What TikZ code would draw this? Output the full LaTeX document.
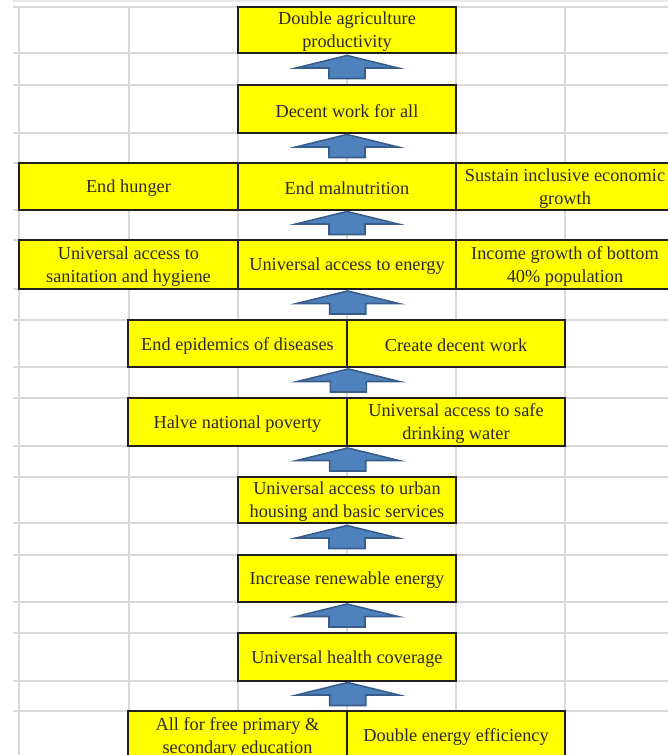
\documentclass[tikz,border=0pt]{standalone}
\usepackage{fontspec}
\setmainfont{Liberation Serif}
\usepackage{xcolor}
\usepackage{tikz}
\usetikzlibrary{calc}
\definecolor{cellyellow}{HTML}{FFFF00}
\definecolor{inkblack}{HTML}{231F20}
\definecolor{gridgray}{HTML}{D9D9D9}
\definecolor{arrowfill}{HTML}{4F81BD}
\definecolor{arrowline}{HTML}{385D8A}

\begin{document}
\begin{tikzpicture}[x=1pt,y=-1pt,font=\fontsize{18.3}{23}\selectfont,
  goal/.style={draw=inkblack,fill=cellyellow,line width=2.8pt,inner sep=0pt},
  goaltext/.style={align=center,inner sep=0pt,text=inkblack!95},
  gridline/.style={gridgray,line width=1.4pt},
  blockarr/.style={fill=arrowfill,draw=arrowline,line width=1.6pt}]
\useasboundingbox (0,0) rectangle (668,755);
\clip (0,0) rectangle (668,755);
% sheet grid
\draw[gridline,gridgray!60] (13,1) -- (668,1);
\foreach \y in {7,53,85,133,163,210,240,289,320,367,398,446,477,523,555,602,633,681,711}
  \draw[gridline] (13,\y) -- (668,\y);
\foreach \x in {19,129,238,347,456,565}
  \draw[gridline] (\x,7) -- (\x,755);
% goal cells
\foreach \n/\xa/\xb/\ya/\yb/\txt in {
  b1/238/456/7/53/{Double agriculture\\productivity},
  b2/238/456/85/133/{Decent work for all},
  r3a/19/238/163/210/{End hunger},
  r3b/238/456/163/210/{End malnutrition},
  r3c/456/674/163/210/{Sustain inclusive economic\\growth},
  r4a/19/238/240/289/{Universal access to\\sanitation and hygiene},
  r4b/238/456/240/289/{Universal access to energy},
  r4c/456/674/240/289/{Income growth of bottom\\40\% population},
  r5a/128/347/320/367/{End epidemics of diseases},
  r5b/347/565/320/367/{Create decent work},
  r6a/128/347/398/446/{Halve national poverty},
  r6b/347/565/398/446/{Universal access to safe\\drinking water},
  b7/238/456/477/523/{Universal access to urban\\housing and basic services},
  b8/238/456/555/602/{Increase renewable energy},
  b9/238/456/633/681/{Universal health coverage},
  r10a/128/347/711/760/{All for free primary \&\\secondary education},
  r10b/347/565/711/760/{Double energy efficiency}}
{
  \pgfmathsetmacro{\w}{\xb-\xa}
  \pgfmathsetmacro{\h}{\yb-\ya}
  \node[goal,minimum width=\w pt,minimum height=\h pt] (\n)
    at ({(\xa+\xb)/2},{(\ya+\yb)/2}) {};
  \node[goaltext] (\n-txt) at ([yshift=-2pt]\n.center) {\txt};
}
% block arrows between the rows
\foreach \up/\dn in {b1.south/b2.north, b2.south/r3b.north, r3b.south/r4b.north,
  r4b.south/r5a.north east, r5a.south east/r6a.north east,
  r6a.south east/b7.north, b7.south/b8.north, b8.south/b9.north,
  b9.south/r10a.north east}
{
  \path ($(\up)!0.5!(\dn)$) coordinate (mid);
  \draw[blockarr] ([shift={(0,-13.5)}]mid) -- ([shift={(51,-1)}]mid)
    -- ([shift={(18,-1)}]mid) -- ([shift={(18,9.5)}]mid)
    -- ([shift={(-18,9.5)}]mid) -- ([shift={(-18,-1)}]mid)
    -- ([shift={(-51,-1)}]mid) -- cycle;
}
\end{tikzpicture}
\end{document}
